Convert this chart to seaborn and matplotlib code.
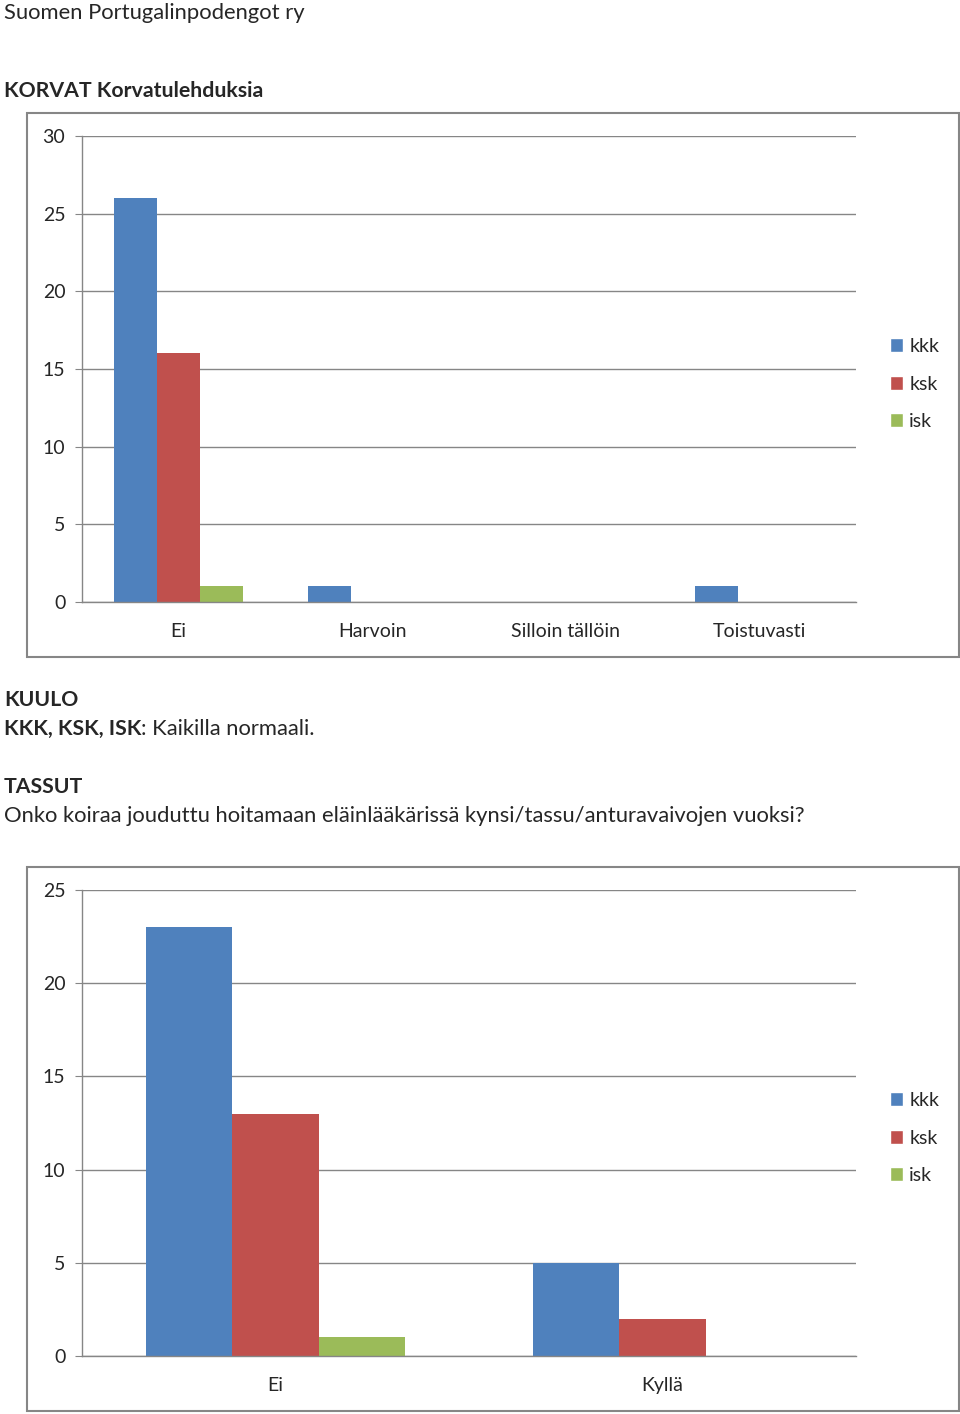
import matplotlib
matplotlib.use("Agg")
import matplotlib.pyplot as plt
from matplotlib.patches import Rectangle, Patch
import seaborn as sns
import pandas as pd

# data
groups = ["kkk", "ksk", "isk"]
colors = ["#4F81BD", "#C0504D", "#9BBB59"]

korvat_cats = ["Ei", "Harvoin", "Silloin tällöin", "Toistuvasti"]
korvat_kkk = [26, 1, 0, 1]
korvat_ksk = [16, 0, 0, 0]
korvat_isk = [1, 0, 0, 0]

tassut_cats = ["Ei", "Kyllä"]
tassut_kkk = [23, 5]
tassut_ksk = [13, 2]
tassut_isk = [1, 0]

sns.set_style("white")
plt.rcParams["font.family"] = ["Lato", "DejaVu Sans"]

W, H = 960, 1414
fig = plt.figure(figsize=(9.6, 14.14), dpi=100)
GRAY = "#868686"


def long_df(cats, kkk, ksk, isk):
    rows = []
    for vals, g in zip([kkk, ksk, isk], groups):
        for c, v in zip(cats, vals):
            rows.append({"cat": c, "grp": g, "val": v})
    return pd.DataFrame(rows)


def px_axes(x0, y0, x1, y1):
    return fig.add_axes([x0 / W, 1 - y1 / H, (x1 - x0) / W, (y1 - y0) / H])


def frame(x0, y0, x1, y1):
    fig.patches.append(Rectangle((x0 / W, 1 - y1 / H), (x1 - x0) / W, (y1 - y0) / H,
                                 transform=fig.transFigure, fill=False,
                                 edgecolor=GRAY, lw=1.5))


def draw_chart(ax, cats, kkk, ksk, isk, ymax, legend_y):
    df = long_df(cats, kkk, ksk, isk)
    sns.barplot(data=df, x="cat", y="val", hue="grp", order=cats, hue_order=groups,
                palette=colors, width=0.667, ax=ax, legend=False, saturation=1,
                linewidth=0)
    n = len(cats)
    ax.set_xlim(-0.5, n - 0.5)
    ax.set_ylim(0, ymax)
    ax.set_yticks(range(0, ymax + 1, 5))
    ax.yaxis.grid(True, color=GRAY, lw=1)
    ax.set_axisbelow(True)
    ax.set_xlabel("")
    ax.set_ylabel("")
    for s in ["top", "right"]:
        ax.spines[s].set_visible(False)
    for s in ["left", "bottom"]:
        ax.spines[s].set_color(GRAY)
        ax.spines[s].set_linewidth(1)
    ax.set_xticks([i - 0.5 for i in range(n + 1)])
    ax.set_xticklabels([])
    ax.set_xticks(range(n), minor=True)
    ax.set_xticklabels(cats, minor=True)
    ax.tick_params(axis="x", which="major", length=5, color=GRAY, direction="out")
    ax.tick_params(axis="x", which="minor", length=0, pad=15, labelsize=14)
    ax.tick_params(axis="y", length=5, color=GRAY, direction="out", pad=7, labelsize=14,
                   left=True)
    handles = [Patch(facecolor=c, label=g) for g, c in zip(groups, colors)]
    fig.legend(handles=handles, loc="center left",
               bbox_to_anchor=(880 / W, 1 - legend_y / H), frameon=False,
               fontsize=14, handlelength=0.7, handleheight=0.7, handletextpad=0.3,
               labelspacing=1.05, borderpad=0)


# texts
fs = 15.8
fb = 15.3
fig.text(4 / W, 1 - 13 / H, "Suomen Portugalinpodengot ry", fontsize=fs, va="center")
fig.text(4 / W, 1 - 91 / H, "KORVAT Korvatulehduksia", fontsize=fb, va="center",
         fontweight="bold")
fig.text(4 / W, 1 - 700 / H, "KUULO", fontsize=fb, va="center", fontweight="bold")
t = fig.text(4 / W, 1 - 729 / H, "KKK, KSK, ISK", fontsize=fb, va="center",
             fontweight="bold")
fig.canvas.draw()
bb = t.get_window_extent()
fig.text(bb.x1 / W, 1 - 729 / H, ": Kaikilla normaali.", fontsize=fs, va="center")
fig.text(4 / W, 1 - 787 / H, "TASSUT", fontsize=fb, va="center", fontweight="bold")
fig.text(4 / W, 1 - 816 / H,
         "Onko koiraa jouduttu hoitamaan eläinlääkärissä kynsi/tassu/anturavaivojen vuoksi?",
         fontsize=fs, va="center")

# chart 1
frame(27, 113, 959, 657)
ax1 = px_axes(82, 136, 856, 602)
draw_chart(ax1, korvat_cats, korvat_kkk, korvat_ksk, korvat_isk, 30, 384)

# chart 2
frame(27, 867, 959, 1411)
ax2 = px_axes(82, 890, 856, 1356)
draw_chart(ax2, tassut_cats, tassut_kkk, tassut_ksk, tassut_isk, 25, 1138)

fig.savefig("out.png", dpi=100)
